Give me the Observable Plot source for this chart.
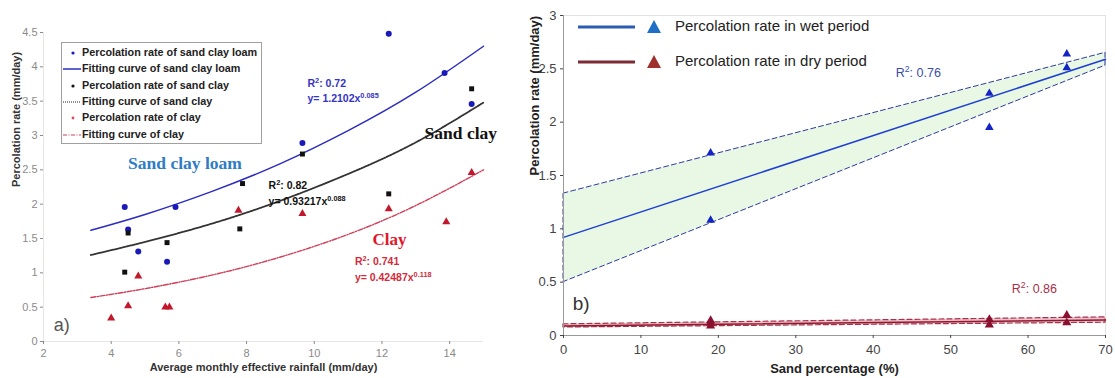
<!DOCTYPE html>
<html><head><meta charset="utf-8">
<script src="https://cdn.jsdelivr.net/npm/d3@7"></script>
<script src="https://cdn.jsdelivr.net/npm/@observablehq/plot@0.6"></script>
<style>
body{margin:0;background:#fff;}
#wrap{position:relative;width:1115px;height:378px;overflow:hidden;font-family:"Liberation Sans",Arial,sans-serif;background:#fff;}
#left{position:absolute;left:0;top:0;}
#right{position:absolute;left:500px;top:0;}
.ov{position:absolute;overflow:visible;}
</style></head><body>
<div id="wrap"><div id="left"></div><div id="right"></div>
<svg class="ov" id="legL" style="left:61px;top:42px" width="202" height="103"></svg>
<svg class="ov" id="legR" style="left:570px;top:12px" width="320" height="70"></svg>
</div>
<script>
// ---------- Panel a) data ----------
const rainfallLoam = [4.4, 4.5, 4.8, 5.65, 5.9, 9.65, 12.2, 13.85, 14.65];
const rateLoam     = [1.96, 1.63, 1.31, 1.16, 1.96, 2.89, 4.48, 3.91, 3.46];
const rainfallSandClay = [4.4, 4.5, 5.65, 7.8, 7.88, 9.65, 12.2, 14.65];
const rateSandClay     = [1.01, 1.58, 1.44, 1.64, 2.30, 2.73, 2.15, 3.68];
const rainfallClay = [4.0, 4.5, 4.8, 5.6, 5.72, 7.76, 9.65, 12.2, 13.9, 14.65];
const rateClay     = [0.34, 0.52, 0.95, 0.50, 0.50, 1.91, 1.86, 1.93, 1.74, 2.46];
// fitted curves
const curveRain   = [3.4, 5, 7, 9, 11, 13, 15];
const fitLoam     = [1.62, 1.85, 2.19, 2.59, 3.07, 3.63, 4.30];
const fitSandClay = [1.26, 1.45, 1.72, 2.05, 2.44, 2.90, 3.48];
const fitClay     = [0.64, 0.77, 0.97, 1.23, 1.56, 1.98, 2.50];
const leftXTicks = [2, 4, 6, 8, 10, 12, 14];
const leftYTicks = [0, 0.5, 1, 1.5, 2, 2.5, 3, 3.5, 4, 4.5];
const leftLegend = ["Percolation rate of sand clay loam", "Fitting curve of sand clay loam",
  "Percolation rate of sand clay", "Fitting curve of sand clay",
  "Percolation rate of clay", "Fitting curve of clay"];

// ---------- Panel b) data ----------
const sandWet = [19, 19, 55, 55, 65, 65];
const rateWet = [1.71, 1.08, 2.27, 1.95, 2.64, 2.51];
const sandDry = [19, 19, 19, 55, 55, 65, 65];
const rateDry = [0.09, 0.12, 0.14, 0.10, 0.15, 0.12, 0.19];
const fitSand  = [0, 70];
const wetFit   = [0.92, 2.59];
const wetUpper = [1.33, 2.65];
const wetLower = [0.50, 2.53];
const dryFit   = [0.09, 0.145];
const dryUpper = [0.105, 0.17];
const dryLower = [0.075, 0.12];
const rightXTicks = [0, 10, 20, 30, 40, 50, 60, 70];
const rightYTicks = [0, 0.5, 1, 1.5, 2, 2.5, 3];
const rightLegend = ["Percolation rate in wet period", "Percolation rate in dry period"];

// ---------- build tables ----------
const pts = (xs, ys) => xs.map((x, i) => ({x, y: ys[i]}));
const band = (xs, lo, mid, hi) => xs.map((x, i) => ({x, lo: lo[i], y: mid[i], hi: hi[i]}));

function supers(svg) {
  svg.querySelectorAll("text").forEach(t => {
    const s = t.textContent;
    if (t.children.length === 0 && s.includes("^{")) {
      const parts = s.split(/\^\{([^}]*)\}/);
      t.textContent = "";
      parts.forEach((p, i) => {
        if (!p) return;
        const ts = document.createElementNS("http://www.w3.org/2000/svg", "tspan");
        if (i % 2 === 1) { ts.setAttribute("baseline-shift", "super"); ts.setAttribute("font-size", "70%"); }
        ts.textContent = p;
        t.appendChild(ts);
      });
    }
  });
}

const fmt = d => String(d);

const left = Plot.plot({
  width: 500, height: 378,
  marginLeft: 43, marginRight: 17, marginTop: 32, marginBottom: 37,
  x: {domain: [2, 15]},
  y: {domain: [0, 4.5]},
  style: {fontFamily: "Liberation Sans, Arial, sans-serif", fontSize: "11px", background: "white", overflow: "visible"},
  marks: [
    Plot.ruleX([2], {stroke: "#e6e6e6"}),
    Plot.ruleY([0], {stroke: "#e6e6e6"}),
    Plot.axisX(leftXTicks, {tickSize: 3, color: "#8a8a8a", tickFormat: fmt, label: null, tickPadding: 5, fontSize: 11}),
    Plot.axisY(leftYTicks, {tickSize: 3, color: "#8a8a8a", tickFormat: fmt, label: null, tickPadding: 3, fontSize: 11}),
    Plot.line(pts(curveRain, fitLoam), {x: "x", y: "y", curve: "natural", stroke: "#2c2cbf", strokeWidth: 1.5}),
    Plot.line(pts(curveRain, fitSandClay), {x: "x", y: "y", curve: "natural", stroke: "#333", strokeWidth: 1.8, strokeDasharray: "1,1"}),
    Plot.line(pts(curveRain, fitClay), {x: "x", y: "y", curve: "natural", stroke: "#d0405a", strokeWidth: 1.4, strokeDasharray: "5,1.5,1.2,1.5"}),
    Plot.dot(pts(rainfallLoam, rateLoam), {x: "x", y: "y", r: 3, fill: "#1a1ab8"}),
    Plot.dot(pts(rainfallSandClay, rateSandClay), {x: "x", y: "y", symbol: "square", r: 2.8, fill: "#111"}),
    Plot.dot(pts(rainfallClay, rateClay), {x: "x", y: "y", symbol: "triangle", r: 3, fill: "#c2182c"}),
    Plot.text(["Sand clay loam"], {text: d => d, x: 4.5, y: 2.59, textAnchor: "start", fontFamily: "Liberation Serif, Times New Roman, serif", fontWeight: "bold", fontSize: 17.5, fill: "#2f7cc6"}),
    Plot.text(["Sand clay"], {text: d => d, x: 13.26, y: 3.03, textAnchor: "start", fontFamily: "Liberation Serif, Times New Roman, serif", fontWeight: "bold", fontSize: 17.5, fill: "#111"}),
    Plot.text(["Clay"], {text: d => d, x: 11.72, y: 1.49, textAnchor: "start", fontFamily: "Liberation Serif, Times New Roman, serif", fontWeight: "bold", fontSize: 17, fill: "#e2162c"}),
    Plot.text(["R^{2}: 0.72", "y= 1.2102x^{0.085}"], {text: d => d, x: 9.8, y: (d, i) => [3.76, 3.54][i], textAnchor: "start", fontWeight: "bold", fontSize: 10.5, fill: "#3434c4"}),
    Plot.text(["R^{2}: 0.82", "y= 0.93217x^{0.088}"], {text: d => d, x: 8.65, y: (d, i) => [2.27, 2.03][i], textAnchor: "start", fontWeight: "bold", fontSize: 10.5, fill: "#111"}),
    Plot.text(["R^{2}: 0.741", "y= 0.42487x^{0.118}"], {text: d => d, x: 11.2, y: (d, i) => [1.165, 0.93][i], textAnchor: "start", fontWeight: "bold", fontSize: 10.5, fill: "#d42a3a"}),
    Plot.text(["a)"], {text: d => d, x: 2.3, y: 0.23, textAnchor: "start", fontSize: 18, fill: "#555"}),
    Plot.text(["Average monthly effective rainfall (mm/day)"], {text: d => d, frameAnchor: "bottom", dy: 29, fontWeight: "bold", fontSize: 11, fill: "#333"}),
    Plot.text(["Percolation rate (mm/day)"], {text: d => d, frameAnchor: "left", rotate: -90, dx: -27, fontWeight: "bold", fontSize: 11, fill: "#333"})
  ]
});
supers(left);
document.getElementById("left").appendChild(left);

const right = Plot.plot({
  width: 615, height: 378,
  marginLeft: 63, marginRight: 10, marginTop: 15, marginBottom: 43,
  x: {domain: [0, 70]},
  y: {domain: [0, 3]},
  style: {fontFamily: "Liberation Sans, Arial, sans-serif", fontSize: "13px", background: "white", overflow: "visible"},
  marks: [
    Plot.frame({stroke: "#e2e2e2"}),
    Plot.areaY(band(fitSand, wetLower, wetFit, wetUpper), {x: "x", y1: "lo", y2: "hi", fill: "#e9f8e4", stroke: "#2c3aa0", strokeWidth: 1, strokeDasharray: "5,3"}),
    Plot.line(band(fitSand, wetLower, wetFit, wetUpper), {x: "x", y: "y", stroke: "#1e3fd4", strokeWidth: 1.5}),
    Plot.areaY(band(fitSand, dryLower, dryFit, dryUpper), {x: "x", y1: "lo", y2: "hi", fill: "#efc2cb", stroke: "#a8304a", strokeWidth: 1.2, strokeDasharray: "5,3"}),
    Plot.line(band(fitSand, dryLower, dryFit, dryUpper), {x: "x", y: "y", stroke: "#8e1a30", strokeWidth: 1.5}),
    Plot.ruleX([0], {stroke: "#999"}),
    Plot.ruleY([0], {stroke: "#999"}),
    Plot.axisX(rightXTicks, {tickSize: 3, color: "#444", tickFormat: fmt, label: null, tickPadding: 6, fontSize: 13}),
    Plot.axisY(rightYTicks, {tickSize: 3, color: "#444", tickFormat: fmt, label: null, tickPadding: 4, fontSize: 13}),
    Plot.dot(pts(sandWet, rateWet), {x: "x", y: "y", symbol: "triangle", r: 3.2, fill: "#1424c4"}),
    Plot.dot(pts(sandDry, rateDry), {x: "x", y: "y", symbol: "triangle", r: 3.4, fill: "#8a1030"}),
    Plot.text(["R^{2}: 0.76"], {text: d => d, x: 42.9, y: 2.46, textAnchor: "start", fontSize: 12.5, fill: "#3a4ea8"}),
    Plot.text(["R^{2}: 0.86"], {text: d => d, x: 57.9, y: 0.44, textAnchor: "start", fontSize: 12.5, fill: "#a8304a"}),
    Plot.text(["b)"], {text: d => d, x: 1.2, y: 0.30, textAnchor: "start", fontSize: 19, fill: "#333"}),
    Plot.text(["Sand percentage (%)"], {text: d => d, frameAnchor: "bottom", dy: 37, fontWeight: "bold", fontSize: 13, fill: "#222"}),
    Plot.text(["Percolation rate (mm/day)"], {text: d => d, frameAnchor: "left", rotate: -90, dx: -29, fontWeight: "bold", fontSize: 13, fill: "#222"})
  ]
});
supers(right);
document.getElementById("right").appendChild(right);

// ---------- legends ----------
const NS = "http://www.w3.org/2000/svg";
function el(parent, name, attrs, text) {
  const e = document.createElementNS(NS, name);
  for (const k in attrs) e.setAttribute(k, attrs[k]);
  if (text != null) e.textContent = text;
  parent.appendChild(e);
  return e;
}
const legL = document.getElementById("legL");
el(legL, "rect", {x: 0.5, y: 0.5, width: 200, height: 101, fill: "white", stroke: "#a0a0a0"});
const rowsL = [11, 27, 44, 60, 76, 93];
leftLegend.forEach((t, i) => {
  el(legL, "text", {x: 21, y: rowsL[i], "dominant-baseline": "middle", "font-size": "10.8px", "font-weight": "bold", fill: "#222", "font-family": "Liberation Sans, Arial, sans-serif"}, t);
});
el(legL, "circle", {cx: 12, cy: rowsL[0], r: 1.6, fill: "#1a1ab8"});
el(legL, "line", {x1: 2, x2: 20, y1: rowsL[1], y2: rowsL[1], stroke: "#2c2cbf", "stroke-width": 1.5});
el(legL, "circle", {cx: 12, cy: rowsL[2], r: 1.6, fill: "#111"});
el(legL, "line", {x1: 2, x2: 20, y1: rowsL[3], y2: rowsL[3], stroke: "#222", "stroke-width": 1.2, "stroke-dasharray": "1,1"});
el(legL, "circle", {cx: 12, cy: rowsL[4], r: 1.4, fill: "#e04a60"});
el(legL, "line", {x1: 2, x2: 20, y1: rowsL[5], y2: rowsL[5], stroke: "#d0405a", "stroke-width": 1.2, "stroke-dasharray": "4,1.5,1,1.5"});

const legR = document.getElementById("legR");
const rowsR = [15, 50];
const lineCol = ["#2a5cb4", "#7c2a34"];
const triCol = ["#1f6fc4", "#a0302c"];
rightLegend.forEach((t, i) => {
  const y = rowsR[i];
  el(legR, "line", {x1: 8, x2: 65, y1: y, y2: y, stroke: lineCol[i], "stroke-width": 3.2});
  el(legR, "path", {d: `M${84 - 7},${y + 6} L${84},${y - 7} L${84 + 7},${y + 6} Z`, fill: triCol[i]});
  el(legR, "text", {x: 105, y: y, "dominant-baseline": "middle", "font-size": "15px", fill: "#222", "font-family": "Liberation Sans, Arial, sans-serif"}, t);
});
</script>
</body></html>
